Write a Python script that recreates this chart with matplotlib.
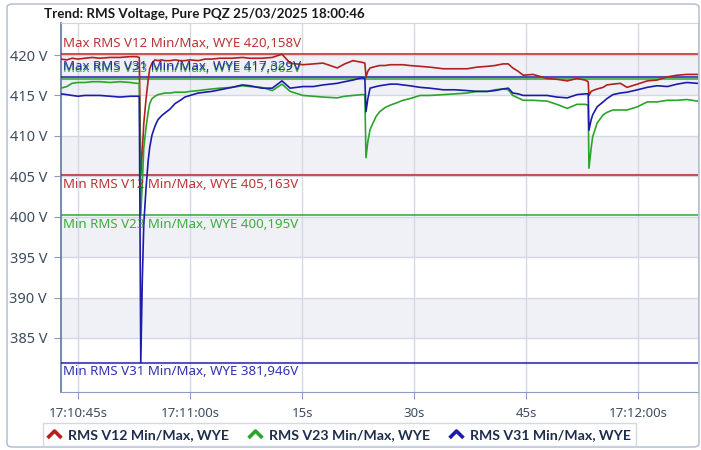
import matplotlib
matplotlib.use('Agg')
import matplotlib.pyplot as plt
import matplotlib.transforms as mtransforms
from matplotlib.lines import Line2D
from matplotlib.path import Path
from matplotlib.patches import FancyBboxPatch

plt.rcParams['font.family'] = ['Noto Sans', 'DejaVu Sans']
bold_family = ['Lato', 'DejaVu Sans']

# time in seconds after 17:10:00
t = [42.7, 43.5, 44.2, 45.0, 45.9, 46.9, 47.9, 49.3, 50.6, 52.0, 52.8, 53.2,
     53.4, 53.6, 53.8, 54.1, 54.4, 54.6, 54.9, 55.3, 55.7, 56.2, 56.6, 57.3,
     58.0, 58.7, 59.3, 60.0, 61.1, 62.0, 62.9, 64.0, 65.6, 67.0, 68.0, 69.6,
     71.0, 72.3, 73.4, 75.1, 76.5, 77.8, 79.7, 80.7, 81.8, 83.0, 83.4, 83.55,
     83.8, 84.1, 84.5, 84.9, 85.4, 86.1, 86.8, 87.7, 88.5, 89.4, 90.8, 92.1,
     93.9, 95.5, 97.1, 98.4, 99.8, 100.8, 101.9, 102.6, 103.2, 103.9, 104.6, 105.9,
     107.8, 109.1, 110.5, 111.8, 112.9, 113.3, 113.4, 113.7, 113.9, 114.5, 115.3, 115.8,
     116.6, 117.6, 118.5, 119.9, 121.2, 122.5, 123.9, 125.2, 126.5, 127.9]

v12 = [419.5, 419.4, 419.6, 419.5, 419.6, 419.7, 419.6, 419.7, 419.7, 419.8, 419.8, 419.7,
       405.2, 408.0, 411.5, 414.5, 417.0, 418.3, 419.0, 419.4, 419.3, 419.4, 419.3, 419.3,
       419.4, 419.3, 419.3, 419.4, 419.3, 419.5, 419.5, 419.6, 419.6, 419.7, 419.6, 419.6,
       419.7, 420.1, 419.0, 418.8, 418.9, 419.0, 418.4, 418.9, 419.3, 419.1, 419.0, 417.3,
       418.0, 418.4, 418.5, 418.6, 418.7, 418.7, 418.8, 418.8, 418.8, 418.7, 418.6, 418.5,
       418.3, 418.3, 418.3, 418.5, 418.6, 418.7, 418.9, 418.9, 418.4, 418.0, 417.5, 417.6,
       417.1, 417.0, 416.8, 417.1, 416.9, 416.7, 415.0, 415.5, 415.6, 415.8, 416.0, 416.3,
       416.4, 416.5, 416.0, 416.4, 416.8, 416.9, 417.3, 417.5, 417.6, 417.6]

v23 = [415.9, 416.1, 416.5, 416.6, 416.6, 416.7, 416.7, 416.6, 416.7, 416.6, 416.5, 416.5,
       400.2, 404.0, 408.5, 411.0, 413.0, 414.0, 414.6, 414.9, 415.1, 415.2, 415.3, 415.3,
       415.4, 415.4, 415.4, 415.5, 415.6, 415.7, 415.8, 415.9, 416.0, 416.2, 416.1, 416.0,
       415.6, 416.4, 415.5, 415.0, 414.9, 414.8, 414.7, 414.9, 415.0, 415.1, 415.1, 407.3,
       409.3, 410.8, 411.6, 412.4, 413.0, 413.5, 413.8, 414.1, 414.4, 414.6, 415.0, 415.0,
       415.1, 415.2, 415.3, 415.5, 415.5, 415.7, 415.8, 415.7, 415.0, 414.7, 414.4, 414.4,
       414.3, 413.9, 413.4, 413.9, 413.9, 413.8, 406.0, 408.5, 409.9, 411.6, 412.6, 412.9,
       413.2, 413.2, 413.2, 413.6, 414.2, 414.2, 414.4, 414.4, 414.5, 414.3]

v31 = [415.2, 415.1, 415.0, 414.9, 415.0, 415.0, 415.0, 414.9, 414.8, 414.9, 414.9, 414.9,
       381.95, 392.0, 399.0, 403.5, 407.0, 408.6, 410.1, 411.2, 412.0, 412.5, 412.8, 413.3,
       414.0, 414.4, 414.8, 415.0, 415.3, 415.4, 415.5, 415.7, 416.0, 416.3, 416.2, 415.9,
       415.9, 416.8, 415.9, 416.1, 416.1, 416.3, 416.5, 416.7, 416.9, 417.2, 417.1, 413.0,
       414.6, 415.9, 416.0, 416.1, 416.2, 416.3, 416.4, 416.4, 416.3, 416.2, 416.0, 415.9,
       415.7, 415.7, 415.6, 415.5, 415.5, 415.6, 415.8, 415.9, 415.3, 415.2, 415.0, 415.0,
       415.0, 414.8, 414.7, 415.1, 415.2, 415.2, 410.7, 412.0, 412.6, 413.6, 414.2, 414.6,
       415.1, 415.3, 415.4, 415.7, 416.0, 416.2, 416.1, 416.4, 416.6, 416.5]

phases = ['V12', 'V23', 'V31']
colors = ['#b42020', '#2aa52a', '#1c1caa']
max_vals = [420.158, 417.062, 417.329]
min_vals = [405.163, 400.195, 381.946]

x_ticks = [45, 60, 75, 90, 105, 120]
x_labels = ['17:10:45s', '17:11:00s', '15s', '30s', '45s', '17:12:00s']
y_ticks = [385, 390, 395, 400, 405, 410, 415, 420]

fig = plt.figure(figsize=(7.01, 4.5), dpi=100)
ax = fig.add_axes([61/701, 1 - 392/450, 637/701, 369/450])

# alternating bands
for lo in [385, 395, 405, 415]:
    ax.axhspan(lo, lo + 5, color='#eff1f6', zorder=0, lw=0)

ax.set_xlim(42.72, 128.0)
ax.set_ylim(378.32, 423.96)
ax.set_xticks(x_ticks)
ax.set_xticklabels(x_labels, fontsize=9.5)
ax.set_yticks(y_ticks)
ax.set_yticklabels([f'{v} V' for v in y_ticks], fontsize=10.5)
ax.grid(True, color='#d3d9e4', lw=1.0, zorder=1)
ax.set_axisbelow(True)

for name in ['top', 'right']:
    ax.spines[name].set_color('#d0d6e2')
ax.spines['left'].set_color('#6a80a8')
ax.spines['bottom'].set_color('#8a9cc0')
ax.spines['left'].set_linewidth(1.3)
ax.tick_params(axis='both', colors='#8a9cc0', labelcolor='#3e4c60', length=5)
ax.tick_params(axis='y', pad=5)
ax.tick_params(axis='x', pad=6)

# traces
for vals, c in zip([v12, v23, v31], colors):
    ax.plot(t, vals, color=c, lw=1.2, zorder=4)

# min / max reference lines with labels
trans = mtransforms.blended_transform_factory(ax.transAxes, ax.transData)
for ph, c, mx, mn in zip(phases, colors, max_vals, min_vals):
    ax.axhline(mx, color=c, lw=1.5, alpha=0.75, zorder=3)
    ax.axhline(mn, color=c, lw=1.5, alpha=0.75, zorder=3)
    ax.annotate(f'Max RMS {ph} Min/Max, WYE {mx:.3f}V'.replace('.', ','),
                xy=(0.003, mx), xycoords=trans, xytext=(0, 2.5),
                textcoords='offset points', va='bottom', ha='left',
                color=c, fontsize=9.6, alpha=0.9, zorder=5)
    ax.annotate(f'Min RMS {ph} Min/Max, WYE {mn:.3f}V'.replace('.', ','),
                xy=(0.003, mn), xycoords=trans, xytext=(0, -2),
                textcoords='offset points', va='top', ha='left',
                color=c, fontsize=9.6, alpha=0.9, zorder=5)

fig.text(44/701, 1 - 14/450, 'Trend: RMS Voltage, Pure PQZ 25/03/2025 18:00:46',
         fontsize=9.6, fontweight='bold', family=bold_family,
         color='#1a1a1a', va='center', ha='left')

# legend with chevron markers
chevron = Path([(-1, -0.5), (0, 0.5), (1, -0.5)],
               [Path.MOVETO, Path.LINETO, Path.LINETO])
handles = [Line2D([], [], linestyle='none', marker=chevron, markersize=10,
                  markeredgewidth=2.6, markerfacecolor='none',
                  markeredgecolor=c) for c in colors]
labels = [f'RMS {ph} Min/Max, WYE' for ph in phases]
leg = fig.legend(handles, labels, loc='lower left',
                 bbox_to_anchor=(43/701, 1 - 446/450), ncol=3,
                 frameon=True, fancybox=False, edgecolor='#c8cfdc',
                 handlelength=0.8, handletextpad=0.6, columnspacing=1.4,
                 borderpad=0.38, borderaxespad=0,
                 prop={'size': 10.2, 'weight': 'bold', 'family': bold_family})
leg.get_frame().set_linewidth(1.0)
for txt in leg.get_texts():
    txt.set_color('#1f2d4d')

# outer rounded frame
fig.patches.append(FancyBboxPatch((7/701, 3/450), 692/701, 443/450,
                                  boxstyle='round,pad=0,rounding_size=0.008',
                                  transform=fig.transFigure, fill=False,
                                  edgecolor='#a9b9d2', lw=1.0))

fig.savefig('out.png', dpi=100)
